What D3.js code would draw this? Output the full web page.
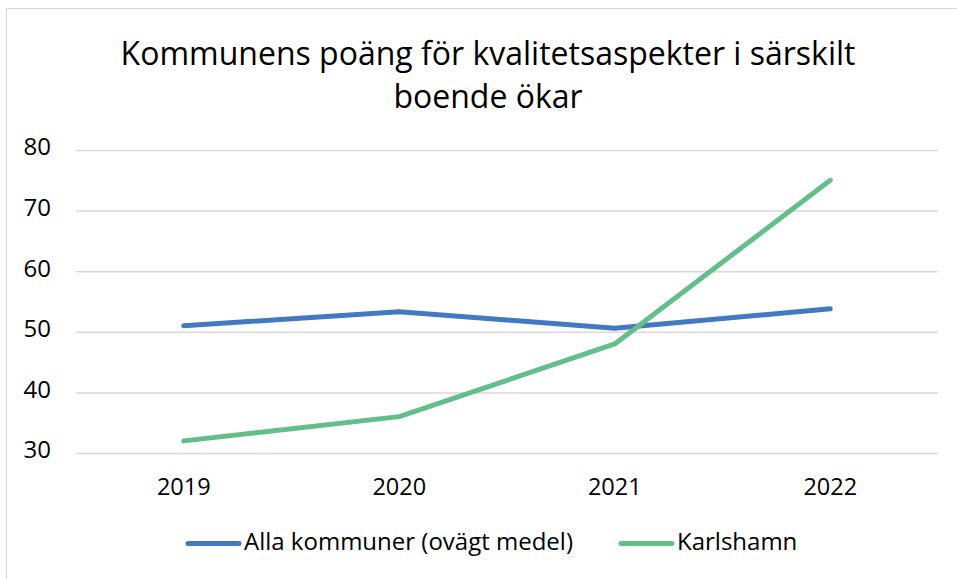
<!DOCTYPE html>
<html><head><meta charset="utf-8">
<script src="https://cdn.jsdelivr.net/npm/d3@7"></script>
<style>body{margin:0;background:#fff;} text{font-family:"Open Sans",sans-serif;fill:#000;}</style>
</head><body>
<svg id="c" width="957" height="579"></svg>
<script>
const years = ["2019","2020","2021","2022"];
const allaKommuner = [51.0, 53.3, 50.6, 53.8];
const karlshamn = [32, 36, 48, 75];
const yTicks = [30,40,50,60,70,80];
const seriesNames = ["Alla kommuner (ovägt medel)","Karlshamn"];
const colors = ["#4279c3","#63be89"];
const titleLines = ["Kommunens poäng för kvalitetsaspekter i särskilt","boende ökar"];

const svg = d3.select("#c");
svg.append("rect").attr("x",6.5).attr("y",8.5).attr("width",960).attr("height",580)
  .attr("fill","#fff").attr("stroke","#d9d9d9").attr("stroke-width",1);

const x = d3.scaleBand().domain(years).range([76,938]);
const y = d3.scaleLinear().domain([30,80]).range([453,150]);

svg.append("g").selectAll("line").data(yTicks).join("line")
  .attr("x1",76).attr("x2",938).attr("y1",d=>y(d)+0.5).attr("y2",d=>y(d)+0.5)
  .attr("stroke","#d9d9d9").attr("stroke-width",1.5);

svg.append("g").selectAll("text").data(yTicks).join("text")
  .attr("x",51).attr("y",d=>y(d)-3).attr("dy","0.35em").attr("text-anchor","end")
  .attr("font-size",24).text(d=>d);

svg.append("g").selectAll("text").data(years).join("text")
  .attr("x",d=>x(d)+x.bandwidth()/2).attr("y",487).attr("dy","0.35em").attr("text-anchor","middle")
  .attr("font-size",23.5).text(d=>d);

const line = d3.line().x((d,i)=>x(years[i])+x.bandwidth()/2).y(d=>y(d));
[allaKommuner,karlshamn].forEach((s,i)=>{
  svg.append("path").datum(s).attr("d",line).attr("fill","none")
    .attr("stroke",colors[i]).attr("stroke-width",5).attr("stroke-linecap","round").attr("stroke-linejoin","round");
});

svg.append("g").selectAll("text").data(titleLines).join("text")
  .attr("x",488).attr("y",(d,i)=>54+i*43).attr("dy","0.35em").attr("text-anchor","middle")
  .attr("font-size",32).text(d=>d);

const legX = [188,621];
seriesNames.forEach((n,i)=>{
  svg.append("line").attr("x1",legX[i]).attr("x2",legX[i]+51).attr("y1",543.5).attr("y2",543.5)
    .attr("stroke",colors[i]).attr("stroke-width",5).attr("stroke-linecap","round");
  svg.append("text").attr("x",legX[i]+56).attr("y",542).attr("dy","0.35em").attr("font-size",24).text(n);
});
</script>
</body></html>
